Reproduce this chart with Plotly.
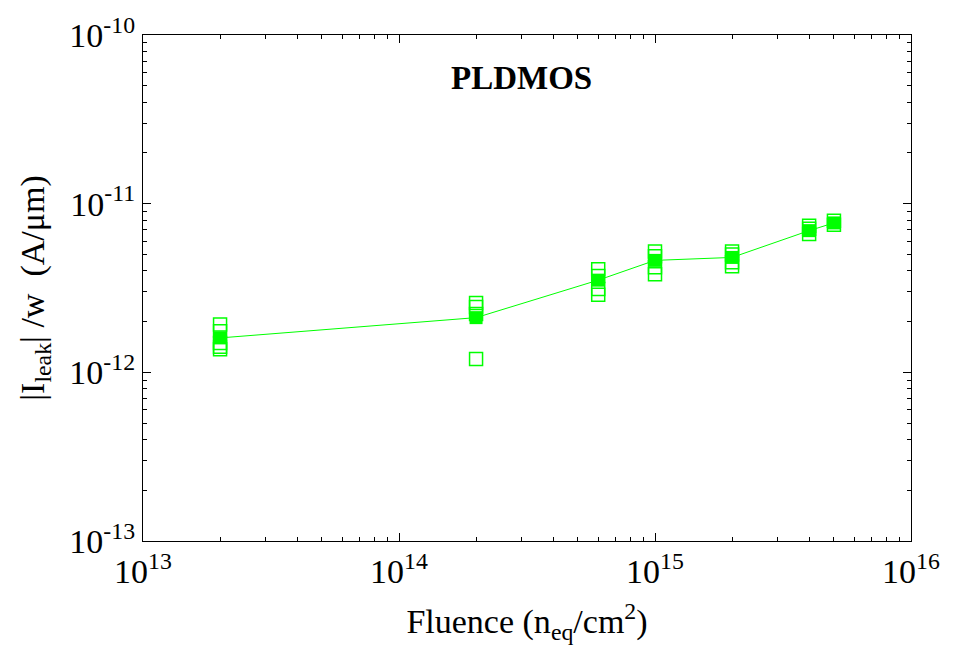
import plotly.graph_objects as go

fluence = [2e13, 2e14, 6e14, 1e15, 2e15, 4e15, 5e15]
device_values = [
    [1.92e-12, 1.75e-12, 1.49e-12, 1.42e-12, 1.37e-12],
    [2.58e-12, 2.44e-12, 2.22e-12, 1.20e-12],
    [4.08e-12, 3.72e-12, 3.12e-12, 2.88e-12],
    [5.20e-12, 4.87e-12, 4.20e-12, 3.82e-12],
    [5.20e-12, 5.00e-12, 4.49e-12, 4.25e-12],
    [7.39e-12, 7.10e-12, 6.61e-12],
    [7.91e-12, 7.50e-12],
]
mean_values = [1.60e-12, 2.11e-12, 3.52e-12, 4.61e-12, 4.80e-12, 6.92e-12, 7.69e-12]

x_tickvals = [1e13, 1e14, 1e15, 1e16]
x_ticktext = ["10<sup>13</sup>", "10<sup>14</sup>", "10<sup>15</sup>", "10<sup>16</sup>"]
y_tickvals = [1e-13, 1e-12, 1e-11, 1e-10]
y_ticktext = ["10<sup>-13</sup>", "10<sup>-12</sup>", "10<sup>-11</sup>", "10<sup>-10</sup>"]

GREEN = "#00ff00"
FONT = "Liberation Serif, Times New Roman, serif"

xs, ys = [], []
for f, vals in zip(fluence, device_values):
    for v in vals:
        xs.append(f)
        ys.append(v)

fig = go.Figure()
fig.add_trace(go.Scatter(
    x=xs, y=ys, mode="markers",
    marker=dict(symbol="square-open", size=13, color=GREEN, line=dict(width=1.5, color=GREEN)),
    showlegend=False, hoverinfo="skip"))
fig.add_trace(go.Scatter(
    x=fluence, y=mean_values, mode="lines+markers",
    line=dict(color=GREEN, width=1),
    marker=dict(symbol="square", size=13, color=GREEN, line=dict(width=0)),
    showlegend=False))

minor_x = [m * 10 ** e for e in range(13, 16) for m in range(2, 10)]
minor_y = [m * 10.0 ** e for e in range(-13, -10) for m in range(2, 10)]

axis_common = dict(
    showline=True, linecolor="black", linewidth=1.2, mirror="ticks",
    ticks="inside", ticklen=8, tickcolor="black", tickwidth=1,
    showgrid=False, zeroline=False,
    tickfont=dict(family=FONT, size=34, color="black"),
)

fig.update_xaxes(
    type="log", range=[13, 16], tickmode="array", tickvals=x_tickvals, ticktext=x_ticktext,
    minor=dict(tickmode="array", tickvals=minor_x, ticks="inside", ticklen=4, tickcolor="black"),
    title=dict(text="Fluence (n<sub>eq</sub>/cm<sup>2</sup>)", font=dict(family=FONT, size=34, color="black"), standoff=20),
    **axis_common)
fig.update_yaxes(
    type="log", range=[-13, -10], tickmode="array", tickvals=y_tickvals, ticktext=y_ticktext,
    minor=dict(tickmode="array", tickvals=minor_y, ticks="inside", ticklen=4, tickcolor="black"),
    title=dict(text="|I<sub>leak</sub>| /w  (A/μm)", font=dict(family=FONT, size=34, color="black"), standoff=14),
    **axis_common)

fig.add_annotation(
    x=0.493, y=0.916, xref="paper", yref="paper", text="<b>PLDMOS</b>", showarrow=False,
    font=dict(family=FONT, size=33, color="black"), xanchor="center", yanchor="middle")

fig.update_layout(
    width=959, height=659,
    margin=dict(l=143, r=48, t=29, b=118),
    paper_bgcolor="white", plot_bgcolor="white",
)

fig.write_html("out.html")
